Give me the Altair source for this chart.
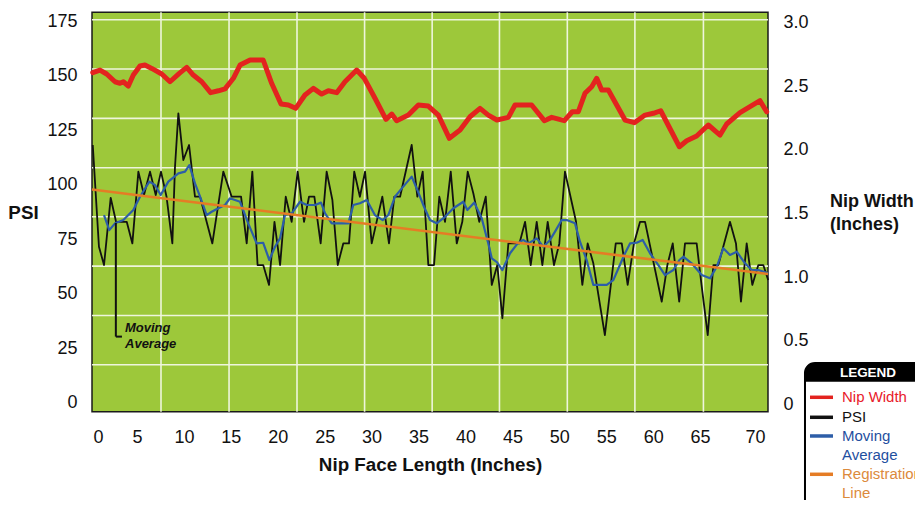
import altair as alt
import pandas as pd

# ---------------- data ----------------
psi_inches = [-0.56, 0.1, 0.64, 1.35, 1.92, 3.06, 3.66, 4.3, 4.9, 5.54,
              6.15, 6.71, 7.3, 7.92, 8.2, 8.56, 9.09, 9.7, 10.33, 10.87,
              12.18, 13.35, 14.24, 15.24, 15.84, 16.44, 17.0, 17.6, 18.22, 18.8,
              19.4, 20.0, 20.63, 21.27, 21.95, 22.48, 23.05, 23.72, 24.36, 24.97,
              25.54, 26.13, 26.74, 27.3, 27.9, 28.45, 29.16, 30.29, 31.0, 31.57,
              32.18, 33.42, 34.02, 34.59, 35.19, 35.8, 36.36, 36.97, 37.58, 38.22,
              38.81, 39.39, 39.99, 40.62, 41.31, 41.95, 42.54, 43.08, 43.72, 44.9,
              45.5, 46.1, 46.74, 47.34, 47.91, 48.58, 49.15, 49.75, 50.93, 51.6,
              52.17, 52.77, 54.0, 55.16, 55.8, 56.43, 57.1, 57.75, 58.28, 60.06,
              60.66, 61.23, 61.92, 62.54, 63.78, 64.3, 64.96, 65.56, 66.09, 67.33,
              67.97, 68.5, 69.11, 69.71, 70.35, 70.88, 71.4]
psi_values = [118.2, 71.6, 63.2, 94.0, 83.0, 83.0, 73.1, 106.0, 95.3, 106.0,
              95.3, 106.0, 94.5, 73.1, 108.0, 132.7, 111.3, 118.2, 94.5, 94.5,
              73.1, 106.0, 94.5, 94.5, 73.1, 106.0, 63.2, 63.2, 54.1, 83.0,
              63.2, 94.5, 83.0, 106.0, 83.0, 94.5, 94.5, 73.1, 106.0, 93.0,
              63.2, 73.1, 73.1, 106.0, 94.5, 106.0, 73.1, 94.5, 73.1, 94.5,
              94.5, 118.2, 94.5, 106.0, 63.2, 63.2, 94.5, 83.0, 106.0, 73.1,
              83.0, 106.0, 96.0, 83.0, 94.5, 54.1, 63.2, 38.8, 73.1, 73.1,
              83.0, 63.2, 83.0, 63.2, 83.0, 63.2, 73.1, 106.0, 83.0, 54.1,
              73.1, 64.0, 31.1, 73.1, 73.1, 54.1, 73.1, 83.0, 83.0, 46.4,
              63.2, 73.1, 46.4, 73.1, 73.1, 54.1, 31.1, 63.2, 63.2, 83.0,
              73.1, 46.4, 73.1, 54.1, 63.2, 63.2, 56.3]

avg_inches = [0.64, 1.2, 1.81, 2.7, 3.76, 4.47, 5.47, 6.07, 6.68, 7.49,
              8.56, 9.27, 9.73, 10.33, 10.87, 11.58, 12.11, 12.82, 13.53, 14.06,
              15.13, 16.0, 16.9, 17.6, 18.25, 18.86, 19.39, 19.92, 20.64, 21.52,
              22.24, 23.12, 23.76, 24.19, 24.9, 26.67, 27.2, 27.9, 28.63, 29.5,
              30.33, 30.93, 31.64, 32.36, 33.42, 34.02, 34.73, 35.37, 36.08, 36.97,
              37.86, 38.92, 39.35, 40.09, 40.88, 41.58, 41.95, 42.5, 43.08, 43.9,
              44.71, 45.3, 45.85, 46.74, 47.44, 48.16, 48.69, 49.4, 49.94, 50.82,
              51.35, 52.06, 52.77, 54.2, 54.9, 55.6, 56.15, 56.68, 57.39, 58.03,
              58.81, 59.7, 60.41, 61.3, 61.94, 62.36, 63.25, 64.32, 65.2, 65.92,
              66.62, 67.33, 68.05, 68.93, 69.65, 70.35, 71.4]
avg_values = [86.1, 79.2, 82.3, 83.8, 88.4, 94.5, 101.4, 99.9, 95.3, 101.4,
              105.2, 106.0, 109.0, 100.6, 94.5, 86.1, 87.6, 89.2, 90.7, 93.8,
              92.2, 82.3, 73.1, 73.4, 65.5, 71.6, 75.4, 86.1, 86.9, 92.2,
              90.7, 90.7, 91.8, 86.9, 82.3, 82.3, 90.7, 91.5, 93.0, 86.1,
              83.8, 86.1, 94.5, 98.3, 103.7, 97.6, 89.9, 83.8, 82.3, 85.3,
              89.2, 92.2, 88.4, 91.8, 84.6, 73.1, 66.3, 64.5, 60.9, 68.6,
              73.1, 74.7, 73.1, 75.4, 71.6, 74.7, 78.5, 83.8, 83.8, 82.3,
              73.9, 65.5, 54.1, 54.1, 56.3, 63.2, 68.6, 73.1, 73.4, 74.7,
              68.6, 63.2, 58.6, 60.9, 65.5, 67.0, 64.0, 58.6, 57.1, 62.4,
              70.9, 67.8, 69.3, 64.0, 60.9, 60.9, 59.4]

width_inches = [-0.56, 0.21, 0.92, 1.81, 2.34, 2.7, 3.23, 3.76, 4.47, 5.0,
                5.72, 6.79, 7.67, 8.66, 9.45, 10.15, 11.05, 12.0, 12.82, 13.53,
                14.42, 15.13, 16.2, 17.6, 18.5, 19.5, 20.28, 21.06, 22.05, 22.94,
                23.83, 24.54, 25.43, 26.31, 27.56, 28.37, 29.51, 30.68, 31.29, 31.82,
                33.06, 34.13, 35.19, 36.26, 37.43, 38.57, 39.63, 40.7, 41.58, 42.5,
                43.72, 44.43, 46.2, 47.55, 48.34, 49.68, 50.53, 51.17, 51.88, 52.6,
                53.13, 53.66, 54.37, 56.15, 57.14, 58.28, 59.17, 59.95, 61.94, 62.72,
                63.78, 65.02, 66.27, 66.98, 68.4, 70.53, 71.24]
width_values = [2.607, 2.628, 2.597, 2.536, 2.524, 2.536, 2.502, 2.589, 2.66, 2.667,
                2.641, 2.597, 2.536, 2.602, 2.649, 2.589, 2.536, 2.45, 2.465, 2.48,
                2.563, 2.667, 2.707, 2.707, 2.524, 2.361, 2.353, 2.327, 2.432, 2.484,
                2.439, 2.465, 2.45, 2.536, 2.628, 2.563, 2.406, 2.24, 2.282, 2.23,
                2.274, 2.353, 2.345, 2.274, 2.091, 2.156, 2.261, 2.327, 2.274, 2.235,
                2.256, 2.353, 2.353, 2.23, 2.256, 2.23, 2.3, 2.3, 2.445, 2.497,
                2.563, 2.471, 2.471, 2.235, 2.214, 2.274, 2.288, 2.308, 2.025, 2.072,
                2.109, 2.196, 2.117, 2.204, 2.293, 2.387, 2.3]

reg_inches = [-0.64, 71.38]
reg_values = [97.8, 59.1]

x_ticks = [0, 5, 10, 15, 20, 25, 30, 35, 40, 45, 50, 55, 60, 65, 70]
psi_ticks = [0, 25, 50, 75, 100, 125, 150, 175]
width_ticks = [0, 0.5, 1.0, 1.5, 2.0, 2.5, 3.0]

# ---------------- layout / style ----------------
W, H = 676, 399.4
X_DOM = [-0.64, 71.38]
YL_DOM = [-4.0, 179.0]
YR_DOM = [-0.058, 3.082]
FONT = "Liberation Sans"
grid_x = [6.71, 13.96, 21.2, 28.4, 35.6, 42.77, 50.0, 57.2, 64.5]
grid_y = [17.5, 40.1, 62.7, 85.3, 107.8, 130.4, 153.0, 175.6]

RED = "#E3231F"
BLUE = "#2D5EA8"
ORANGE = "#E57C25"
BLACK = "#111111"

psi_df = pd.DataFrame({"inch": psi_inches, "psi": psi_values})
avg_df = pd.DataFrame({"inch": avg_inches, "psi": avg_values})
reg_df = pd.DataFrame({"inch": reg_inches, "psi": reg_values})
wid_df = pd.DataFrame({"inch": width_inches, "width": width_values})
gx_df = pd.DataFrame({"inch": grid_x})
gy_df = pd.DataFrame({"gy": grid_y})
one = pd.DataFrame({"k": [0]})

# call-out for the moving average (in data units)
call_v_df = pd.DataFrame({"inch": [1.9, 1.9], "psi": [82.5, 30.4]})
call_h_df = pd.DataFrame({"inch": [1.9, 2.55], "psi": [30.4, 30.4]})
call_t_df = pd.DataFrame({"inch": [2.88, 2.88], "psi": [32.7, 25.2],
                          "label": ["Moving", "Average"]})

xs = alt.Scale(domain=X_DOM, nice=False, zero=False)
yls = alt.Scale(domain=YL_DOM, nice=False, zero=False)
yrs = alt.Scale(domain=YR_DOM, nice=False, zero=False)

x_axis = alt.Axis(values=x_ticks, grid=False, ticks=False, domain=False,
                  labelFontSize=18, labelPadding=16.5, labelColor=BLACK,
                  labelFont=FONT, labelFlush=False,
                  labelOffset={"condition": {"test": "datum.value > 0 && datum.value < 70",
                                             "value": -8},
                               "value": 0},
                  title="Nip Face Length (Inches)", titleFont=FONT,
                  titleFontSize=18.8, titleFontWeight="bold", titleColor=BLACK,
                  titleBaseline="alphabetic", titleY=58.5)
yl_axis = alt.Axis(values=psi_ticks, grid=False, ticks=False, domain=False,
                   orient="left", labelFontSize=18, labelPadding=15,
                   labelColor=BLACK, labelFont=FONT, labelFlush=False,
                   title="PSI", titleFont=FONT, titleFontSize=18.8,
                   titleFontWeight="bold", titleColor=BLACK, titleAngle=0,
                   titleAlign="center", titleBaseline="middle",
                   titleX=-69, titleY=200.7)
yr_axis = alt.Axis(values=width_ticks, grid=False, ticks=False, domain=False,
                   orient="right", labelFontSize=18, labelPadding=15,
                   labelColor=BLACK, labelFont=FONT, labelFlush=False,
                   labelExpr="datum.value == 0 ? '0' : format(datum.value, '.1f')",
                   title=["Nip Width", "(Inches)"], titleFont=FONT,
                   titleFontSize=18, titleFontWeight="bold", titleColor=BLACK,
                   titleAngle=0, titleAlign="left", titleBaseline="alphabetic",
                   titleLineHeight=23, titleX=61.5, titleY=194)


def xq(field):
    # every layer shares the same x scale and the same (identical) axis
    return alt.X(field, type="quantitative", scale=xs, axis=x_axis)


def yq(field, scale=yls, axis=None):
    return alt.Y(field, type="quantitative", scale=scale, axis=axis)


vgrid = alt.Chart(gx_df).mark_rule(color="#EEF5DC", strokeWidth=1.6).encode(
    x=xq("inch"))
hgrid = alt.Chart(gy_df).mark_rule(color="#EEF5DC", strokeWidth=1.6).encode(
    y=yq("gy"))

psi_line = alt.Chart(psi_df).mark_line(color=BLACK, strokeWidth=1.8,
                                        strokeJoin="round").encode(
    x=xq("inch"), y=yq("psi", axis=yl_axis))
avg_line = alt.Chart(avg_df).mark_line(color=BLUE, strokeWidth=2.2,
                                        strokeJoin="round").encode(
    x=xq("inch"), y=yq("psi"))
reg_line = alt.Chart(reg_df).mark_line(color=ORANGE, strokeWidth=2.6).encode(
    x=xq("inch"), y=yq("psi"))

call_v = alt.Chart(call_v_df).mark_line(color=BLACK, strokeWidth=2).encode(
    x=xq("inch"), y=yq("psi"))
call_h = alt.Chart(call_h_df).mark_line(color=BLACK, strokeWidth=2).encode(
    x=xq("inch"), y=yq("psi"))
call_t = alt.Chart(call_t_df).mark_text(font=FONT, fontSize=13,
                                        fontWeight="bold", fontStyle="italic",
                                        align="left", baseline="alphabetic",
                                        color=BLACK).encode(
    x=xq("inch"), y=yq("psi"), text="label:N")

red_line = alt.Chart(wid_df).mark_line(color=RED, strokeWidth=5,
                                        strokeJoin="round", strokeCap="round").encode(
    x=xq("inch"), y=yq("width", scale=yrs, axis=yr_axis))

# ---------------- custom legend box (pixel placement) ----------------
LX0, LX1 = 713, 850
box = alt.Chart(one).mark_rect(fill="white", stroke="black", strokeWidth=2,
                               cornerRadiusTopLeft=10, cornerRadiusTopRight=10).encode(
    x=alt.value(LX0), x2=alt.value(LX1), y=alt.value(350.7), y2=alt.value(530))
header = alt.Chart(one).mark_rect(fill="black", cornerRadiusTopLeft=10,
                                  cornerRadiusTopRight=10).encode(
    x=alt.value(LX0), x2=alt.value(LX1), y=alt.value(350.7), y2=alt.value(369.5))
header_t = alt.Chart(one).mark_text(text="LEGEND", font=FONT, fontSize=13.5,
                                    fontWeight="bold", color="white",
                                    align="center", baseline="middle").encode(
    x=alt.value(776), y=alt.value(360.5))

legend_items = [("Nip Width", RED, "#E8202A", 385),
                ("PSI", BLACK, BLACK, 405),
                ("Moving", BLUE, "#1F4FA0", 423.7),
                ("Average", None, "#1F4FA0", 442.7),
                ("Registration", ORANGE, "#DC8A3C", 462),
                ("Line", None, "#DC8A3C", 481)]
legend_layers = [box, header, header_t]
for label, lcol, tcol, yv in legend_items:
    if lcol is not None:
        legend_layers.append(alt.Chart(one).mark_rule(color=lcol, strokeWidth=3.5).encode(
            x=alt.value(718), x2=alt.value(741), y=alt.value(yv)))
    legend_layers.append(alt.Chart(one).mark_text(text=label, font=FONT, fontSize=15,
                                                  color=tcol, align="left",
                                                  baseline="middle").encode(
        x=alt.value(750), y=alt.value(yv)))

chart = alt.layer(vgrid, hgrid, psi_line, avg_line, reg_line,
                  call_v, call_h, call_t, red_line, *legend_layers).resolve_scale(
    y="independent"
).properties(
    width=W, height=H,
    autosize=alt.AutoSizeParams(type="none"),
    padding={"left": 84, "top": 4.3, "right": 147, "bottom": 88},
    background="white",
).configure_view(
    fill="#9DC83A", stroke="#1a1a1a", strokeWidth=1.5
).configure_text(font=FONT)

chart.save("out.html", embed_options={"renderer": "svg", "actions": False})
